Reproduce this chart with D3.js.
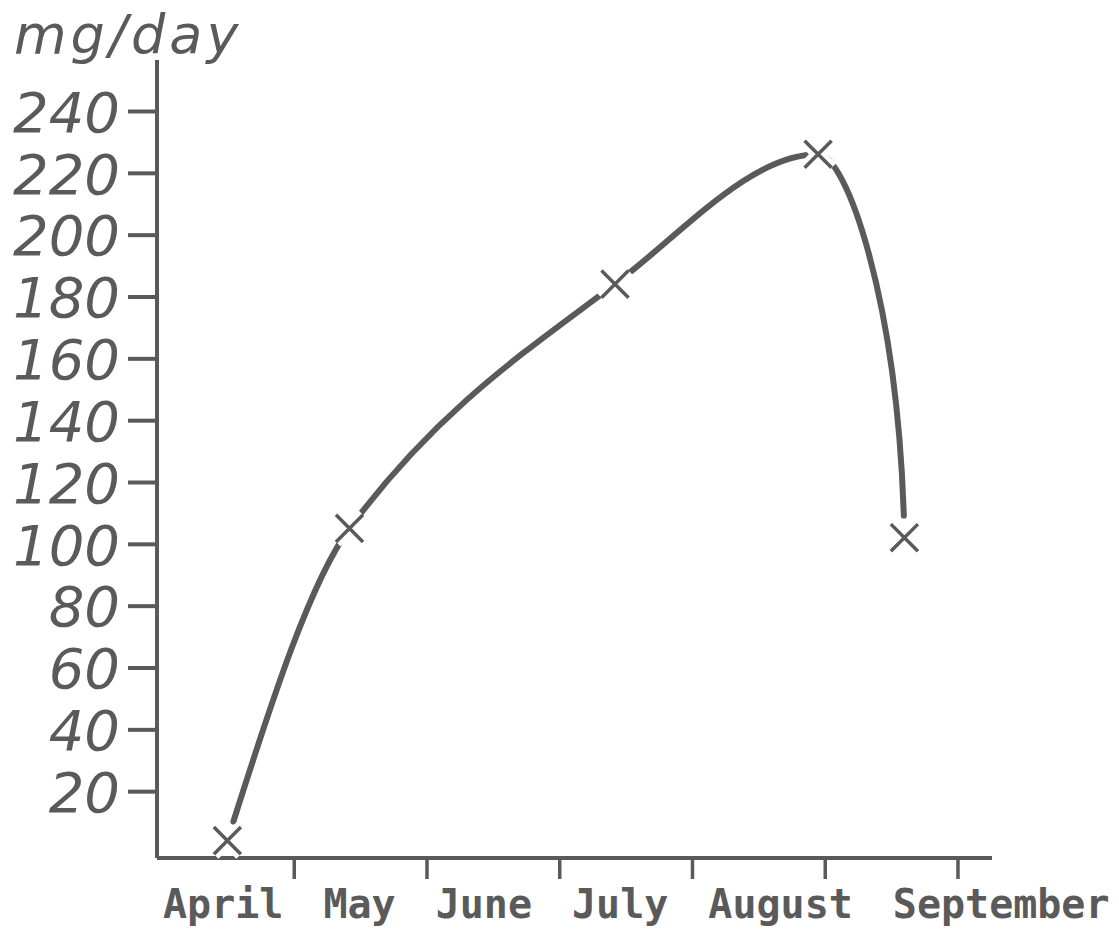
<!DOCTYPE html>
<html>
<head>
<meta charset="utf-8">
<script src="https://cdn.jsdelivr.net/npm/d3@7"></script>
<style>
  body { margin: 0; background: #fff; }
  svg { display: block; }
</style>
</head>
<body>
<svg id="chart"></svg>
<script>
// Values
const months = ["April", "May", "June", "July", "August", "September"];
const sampleMonth = [0.5, 1.42, 3.42, 4.95, 5.6];   // months after the start of April
const dose = [4, 105, 184, 226, 102];               // mg/day
const yTicks = [20, 40, 60, 80, 100, 120, 140, 160, 180, 200, 220, 240];
const monthTicks = [1, 2, 3, 4, 5, 6];

// Sizes
const width = 1119;
const height = 932;
const axisX = 157;      // y axis position
const baseline = 858;   // x axis position
const axisTop = 60;
const ink = "#5a5a5a";

const x = d3.scaleLinear()
    .domain([-0.03, 6.26])
    .range([axisX, 992]);

const y = d3.scaleLinear()
    .domain([0, 240])
    .range([853, 111]);

// Hand drawn look: x-monotone cubic with harmonic-mean slopes,
// the pen comes down almost vertically onto the last cross
function PenCurve(context) { this._context = context; }
PenCurve.prototype = {
    areaStart() { this._line = 0; },
    areaEnd() { this._line = NaN; },
    lineStart() { this._xs = []; this._ys = []; },
    point(px, py) { this._xs.push(+px); this._ys.push(+py); },
    lineEnd() {
        const xs = this._xs, ys = this._ys, n = xs.length, c = this._context;
        if (n < 2) return;
        const s = [];
        for (let i = 0; i < n - 1; i++) s.push((ys[i + 1] - ys[i]) / (xs[i + 1] - xs[i]));
        const m = xs.map((_, i) => {
            if (i === 0 || i === n - 1) return 0;
            const a = s[i - 1], b = s[i];
            return a * b <= 0 ? 0 : 2 / (1 / a + 1 / b);
        });
        if (n > 2) m[0] = (3 * s[0] - m[1]) / 2;
        c.moveTo(xs[0], ys[0]);
        for (let i = 0; i < n - 1; i++) {
            const h = xs[i + 1] - xs[i], dy = ys[i + 1] - ys[i];
            const c1x = xs[i] + h / 3, c1y = ys[i] + m[i] * h / 3;
            let c2x, c2y;
            if (i === n - 2) { c2x = xs[i + 1] - 0.05 * h; c2y = ys[i + 1] - 0.6 * dy; }
            else { c2x = xs[i + 1] - h / 3; c2y = ys[i + 1] - m[i + 1] * h / 3; }
            c.bezierCurveTo(c1x, c1y, c2x, c2y, xs[i + 1], ys[i + 1]);
        }
    }
};
const penCurve = context => new PenCurve(context);

const svg = d3.select("#chart")
    .attr("width", width)
    .attr("height", height)
    .attr("viewBox", [0, 0, width, height]);

svg.append("rect")
    .attr("width", width)
    .attr("height", height)
    .attr("fill", "#fff");

// y axis
svg.append("g")
    .attr("transform", `translate(${axisX},0)`)
    .call(d3.axisLeft(y).tickValues(yTicks).tickSize(29).tickPadding(8))
    .call(g => g.select(".domain").remove())
    .call(g => g.selectAll(".tick line").attr("stroke", ink).attr("stroke-width", 4))
    .call(g => g.selectAll(".tick text")
        .attr("fill", ink)
        .attr("font-family", "'DejaVu Sans', sans-serif")
        .attr("font-style", "italic")
        .attr("font-size", 56)
        .attr("dy", "0.36em"));

svg.append("line")
    .attr("x1", axisX).attr("x2", axisX)
    .attr("y1", axisTop).attr("y2", baseline)
    .attr("stroke", ink)
    .attr("stroke-width", 4);

// unit label
svg.append("text")
    .attr("x", 14)
    .attr("y", 53)
    .attr("fill", ink)
    .attr("font-family", "'DejaVu Sans', sans-serif")
    .attr("font-style", "italic")
    .attr("font-size", 54)
    .attr("letter-spacing", 4)
    .text("mg/day");

// x axis
svg.append("g")
    .attr("transform", `translate(0,${baseline})`)
    .call(d3.axisBottom(x).tickValues(monthTicks).tickSize(21).tickFormat(""))
    .call(g => g.select(".domain").remove())
    .call(g => g.selectAll(".tick line").attr("stroke", ink).attr("stroke-width", 3.5));

svg.append("line")
    .attr("x1", x.range()[0]).attr("x2", x.range()[1])
    .attr("y1", baseline).attr("y2", baseline)
    .attr("stroke", ink)
    .attr("stroke-width", 4);

// month names, set one after another like a line of lettering
const monthGap = 40;
let cursor = x(0) + 2;
svg.append("g")
    .selectAll("text")
    .data(months)
    .join("text")
      .attr("y", 918)
      .attr("fill", ink)
      .attr("font-family", "'DejaVu Sans Mono', monospace")
      .attr("font-weight", "bold")
      .attr("font-size", 40)
      .text(d => d)
      .each(function() {
          d3.select(this).attr("x", cursor);
          cursor += this.getComputedTextLength() + monthGap;
      });

// curve
const points = sampleMonth.map((m, i) => ({ m, v: dose[i] }));

const line = d3.line()
    .x(d => x(d.m))
    .y(d => y(d.v))
    .curve(penCurve);

const curve = svg.append("path")
    .datum(points)
    .attr("d", line)
    .attr("fill", "none")
    .attr("stroke", ink)
    .attr("stroke-width", 6)
    .attr("stroke-linecap", "round");

// the pen stops short of the first and last crosses
const len = curve.node().getTotalLength();
const startGap = 20, endGap = 22;
curve.attr("stroke-dasharray", `${len - startGap - endGap} ${len}`)
     .attr("stroke-dashoffset", -startGap);

// crosses
const cross = d3.symbol().type(d3.symbolX).size(480);

svg.append("g")
    .selectAll("path")
    .data(points)
    .join("path")
      .attr("transform", d => `translate(${x(d.m)},${y(d.v)})`)
      .attr("d", cross)
      .attr("fill", "none")
      .attr("stroke", "#fff")
      .attr("stroke-width", 13);

svg.append("g")
    .selectAll("path")
    .data(points)
    .join("path")
      .attr("transform", d => `translate(${x(d.m)},${y(d.v)})`)
      .attr("d", cross)
      .attr("fill", "none")
      .attr("stroke", ink)
      .attr("stroke-width", 3.5);
</script>
</body>
</html>
